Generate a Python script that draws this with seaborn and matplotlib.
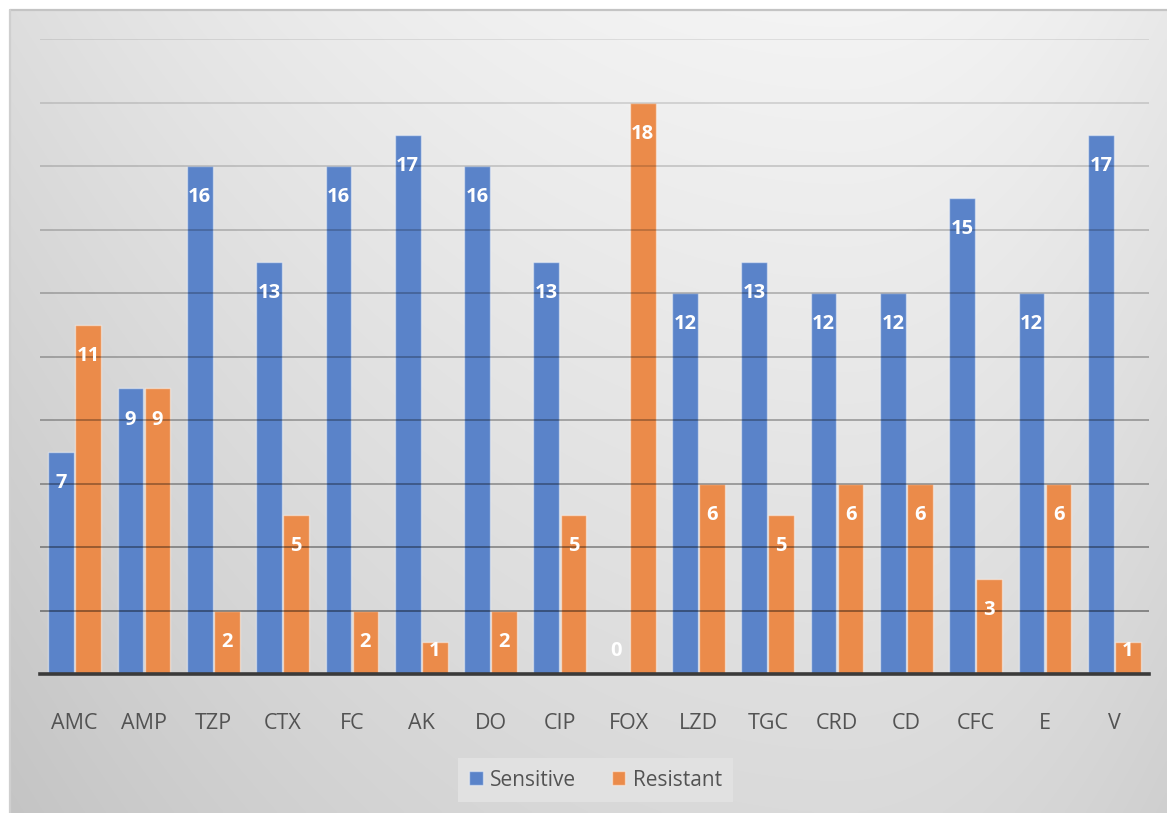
import numpy as np
import pandas as pd
import matplotlib
matplotlib.use("Agg")
import matplotlib.pyplot as plt
import seaborn as sns

categories = ["AMC", "AMP", "TZP", "CTX", "FC", "AK", "DO", "CIP", "FOX",
              "LZD", "TGC", "CRD", "CD", "CFC", "E", "V"]
sensitive = [7, 9, 16, 13, 16, 17, 16, 13, 0, 12, 13, 12, 12, 15, 12, 17]
resistant = [11, 9, 2, 5, 2, 1, 2, 5, 18, 6, 5, 6, 6, 3, 6, 1]
series_names = ["Sensitive", "Resistant"]
colors = ["#5A83C9", "#EB8B4A"]

df = pd.DataFrame({
    "Antibiotic": categories * 2,
    "Count": sensitive + resistant,
    "Result": [series_names[0]] * len(categories) + [series_names[1]] * len(categories),
})

sns.set_theme(style="white")
plt.rcParams["font.family"] = ["Open Sans", "DejaVu Sans"]

W, H = 1167, 813
fig = plt.figure(figsize=(W / 100, H / 100), dpi=100)
fig.patch.set_facecolor("white")

# gradient background panel
bg_ax = fig.add_axes([10 / W, 0, (W - 10) / W, (H - 10) / H], zorder=0)
X, Y = np.meshgrid(np.linspace(0, 1, 400), np.linspace(0, 1, 300))
dx = np.where(X < 0.72, (X - 0.72) / 0.72, (X - 0.72) / 0.40)
v = 0.955 - 0.10 * Y - 0.085 * dx ** 2
img = np.dstack([v, v, v])
bg_ax.imshow(img, aspect="auto", extent=[0, 1, 1, 0], interpolation="bilinear")
bg_ax.set_axis_off()
# light border at top and left
fig.add_artist(plt.Line2D([10 / W, 1], [(H - 10) / H] * 2, color="#c4c4c4", lw=1.6, zorder=1))
fig.add_artist(plt.Line2D([10 / W] * 2, [0, (H - 10) / H], color="#cfcfcf", lw=1.6, zorder=1))

ax = fig.add_axes([40 / W, (H - 674) / H, (1149 - 40) / W, (674 - 39.5) / H], zorder=2)
ax.patch.set_alpha(0)

sns.barplot(data=df, x="Antibiotic", y="Count", hue="Result", order=categories,
            hue_order=series_names, palette=colors, saturation=1, width=0.78, gap=0.05,
            edgecolor=(1, 1, 1, 0.45), linewidth=1.0, ax=ax, zorder=2)

ax.set_ylim(0, 20)
ax.set_xlim(-0.5, len(categories) - 0.5)
ax.set_xlabel("")
ax.set_ylabel("")
ax.set_yticks([])
ax.tick_params(axis="x", length=0, pad=28, labelsize=15.5, labelcolor="#535353")
for s in ["top", "right", "left"]:
    ax.spines[s].set_visible(False)
ax.spines["bottom"].set_color("#3a3a3a")
ax.spines["bottom"].set_linewidth(2.6)
ax.spines["bottom"].set_zorder(5)

# gridlines drawn over bars, darker toward the bottom
for g in range(2, 21, 2):
    a = 0.38 - (g - 2) / 18 * 0.29
    ax.axhline(g, color="black", alpha=a, lw=1.4, zorder=4)

# data labels
for cont in ax.containers:
    for bar in cont:
        h = bar.get_height()
        xc = bar.get_x() + bar.get_width() / 2
        yl = max(h - 0.98, 0.72)
        ax.text(xc, yl, f"{int(round(h))}", ha="center", va="center",
                color="white", fontsize=14.5, fontweight="bold", zorder=6)

leg = ax.legend(loc="center", bbox_to_anchor=(595.5 / W, (H - 780) / H),
                bbox_transform=fig.transFigure, ncol=2, frameon=True,
                fancybox=False, fontsize=15, handlelength=0.65, handleheight=0.65,
                handletextpad=0.35, columnspacing=1.7, borderpad=0.55,
                borderaxespad=0, labelcolor="#535353")
leg.get_frame().set_facecolor("#e1e1e1")
leg.get_frame().set_edgecolor("none")
leg.get_frame().set_alpha(1)
leg.set_title(None)

fig.savefig("out.png", dpi=100)
